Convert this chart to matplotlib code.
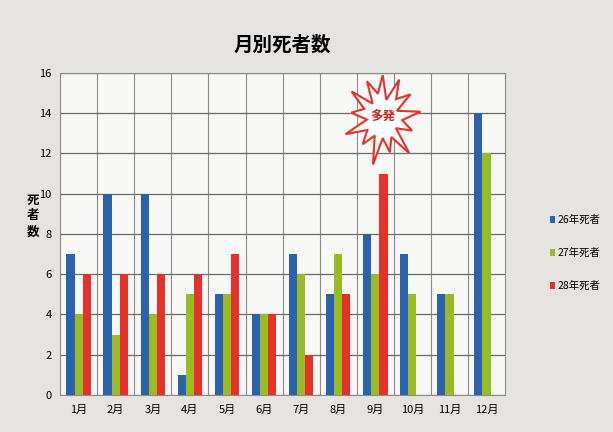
import numpy as np
import matplotlib
matplotlib.use("Agg")
import matplotlib.pyplot as plt
from matplotlib.patches import Polygon

plt.rcParams['font.family'] = ['Noto Sans CJK JP', 'DejaVu Sans']

months = ['1月', '2月', '3月', '4月', '5月', '6月', '7月', '8月', '9月', '10月', '11月', '12月']
deaths_26 = [7, 10, 10, 1, 5, 4, 7, 5, 8, 7, 5, 14]
deaths_27 = [4, 3, 4, 5, 5, 4, 6, 7, 6, 5, 5, 12]
deaths_28 = [6, 6, 6, 6, 7, 4, 2, 5, 11, 0, 0, 0]
series_names = ['26年死者', '27年死者', '28年死者']
colors = ['#2a62ae', '#9bbb24', '#e8302a']

fig = plt.figure(figsize=(6.13, 4.32), dpi=100)
fig.patch.set_facecolor('#e4e3df')
ax = fig.add_axes([0.098, 0.086, 0.726, 0.745])
ax.set_facecolor('#f7f7f5')

x = np.arange(len(months))
w = 0.22
for i, (vals, name, c) in enumerate(zip([deaths_26, deaths_27, deaths_28], series_names, colors)):
    ax.bar(x + (i - 1) * w, vals, width=w, color=c, label=name, zorder=3)

ax.set_xlim(-0.5, len(months) - 0.5)
ax.set_ylim(0, 16)
ax.set_yticks(range(0, 17, 2))
ax.set_xticks(x)
ax.set_xticklabels(months, fontsize=8)
ax.tick_params(axis='y', labelsize=8, length=0, pad=6)
ax.tick_params(axis='x', length=0, pad=7)
ax.yaxis.grid(True, color='#6a6a6a', lw=0.9, zorder=1)
for b in np.arange(0.5, len(months) - 0.5, 1):
    ax.axvline(b, color='#8a8a8a', lw=0.8, zorder=1)
for s in ax.spines.values():
    s.set_color('#8a8a8a')
    s.set_linewidth(0.8)

ax.set_title('月別死者数', fontsize=14, fontweight='bold', pad=16)
fig.text(0.054, 0.50, '死\n者\n数', fontsize=9, fontweight='bold', ha='center', va='center', linespacing=1.3)

# starburst over September
cx, cy = 8.2, 13.8
n = 13
ang = np.linspace(0, 2 * np.pi, 2 * n, endpoint=False) + np.pi / 2
r = np.where(np.arange(2 * n) % 2 == 0, 1.0, 0.5)
rr = r * (1 + 0.15 * np.sin(np.arange(2 * n) * 1.7))
px = cx + rr * np.cos(ang) * 0.95
py = cy + rr * np.sin(ang) * 2.1
star = Polygon(np.column_stack([px, py]), closed=True, facecolor='white',
               edgecolor='#e8302a', lw=1.5, zorder=5, clip_on=False)
ax.add_patch(star)
ax.text(cx, cy, '多発', color='#d8201a', fontsize=9, fontweight='bold',
        ha='center', va='center', zorder=6)

fig.legend(loc='center left', bbox_to_anchor=(0.898, 0.414), frameon=False,
           fontsize=7.5, handlelength=0.45, handleheight=0.7, handletextpad=0.25,
           labelspacing=2.2, borderpad=0, borderaxespad=0)

fig.savefig('out.png', dpi=100, facecolor=fig.get_facecolor())
